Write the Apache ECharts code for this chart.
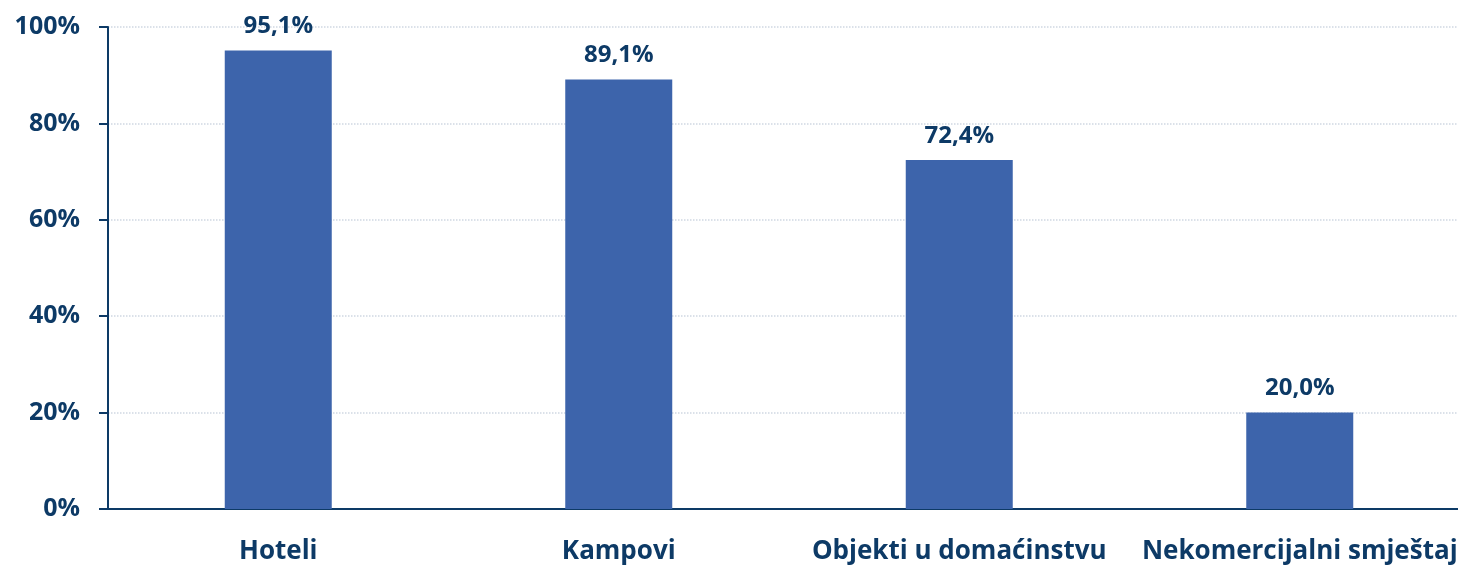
<!DOCTYPE html>
<html>
<head>
    <meta charset="utf-8">
    <title>ECharts</title>
    <style>
        html, body { margin: 0; padding: 0; background: #fff; }
        #chart { width: 1458px; height: 567px; }
    </style>
</head>
<body>
    <div id="chart"></div>
    <script src="https://cdn.jsdelivr.net/npm/echarts/dist/echarts.min.js"></script>
    <script>
        var categories = ['Hoteli', 'Kampovi', 'Objekti u domaćinstvu', 'Nekomercijalni smještaj'];
        var values = [95.1, 89.1, 72.4, 20.0];
        var yTicks = [0, 20, 40, 60, 80, 100];

        var navy = '#0d3a66';
        var font = '"Open Sans", "Noto Sans", sans-serif';

        var myChart = echarts.init(document.getElementById('chart'));
        var option = {
            animation: false,
            grid: {
                left: 108,
                top: 27,
                right: -12,
                height: 482,
                outerBoundsMode: 'none'
            },
            xAxis: {
                type: 'category',
                data: categories,
                axisLine: { lineStyle: { color: navy, width: 2 } },
                axisTick: { show: false },
                axisLabel: {
                    interval: 0,
                    color: navy,
                    fontFamily: font,
                    fontWeight: 'bold',
                    fontSize: 26,
                    margin: 30
                }
            },
            yAxis: {
                type: 'value',
                min: yTicks[0],
                max: yTicks[yTicks.length - 1],
                interval: 20,
                axisLine: { show: true, lineStyle: { color: navy, width: 2 } },
                axisTick: { show: true, length: 9, lineStyle: { color: navy, width: 2 } },
                splitLine: { lineStyle: { color: '#cfd7e2', type: 'dotted', width: 1.5 } },
                axisLabel: {
                    color: navy,
                    fontFamily: font,
                    fontWeight: 'bold',
                    fontSize: 25,
                    margin: 28,
                    formatter: function (v) { return v + '%'; }
                }
            },
            series: [{
                type: 'bar',
                data: values,
                barWidth: 107,
                itemStyle: { color: '#3d64ab' },
                label: {
                    show: true,
                    position: 'top',
                    distance: 12,
                    color: navy,
                    fontFamily: font,
                    fontWeight: 'bold',
                    fontSize: 24,
                    formatter: function (p) { return p.value.toFixed(1).replace('.', ',') + '%'; }
                }
            }]
        };
        myChart.setOption(option);
    </script>
</body>
</html>
